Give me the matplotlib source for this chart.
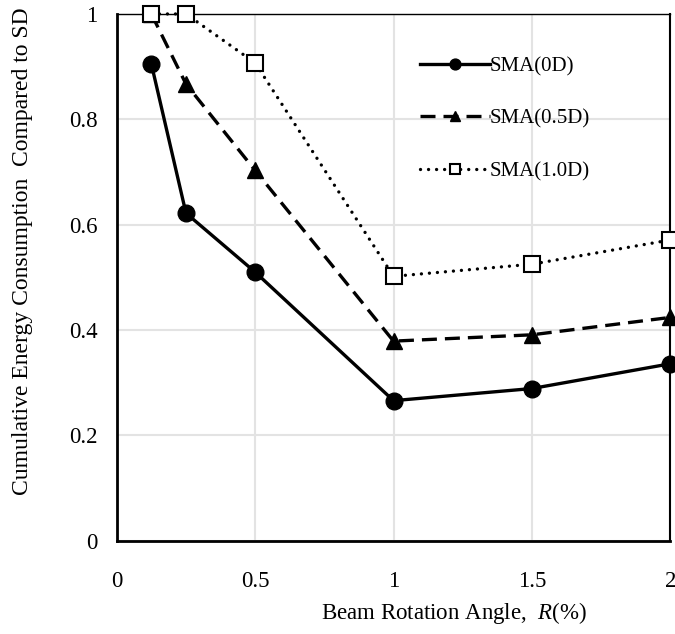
import numpy as np
import matplotlib
matplotlib.use('Agg')
import matplotlib.pyplot as plt

plt.rcParams['font.family'] = ['Liberation Serif', 'DejaVu Serif']
plt.rcParams['mathtext.fontset'] = 'custom'
plt.rcParams['mathtext.it'] = 'Liberation Serif:italic'
plt.rcParams['mathtext.rm'] = 'Liberation Serif'

# Beam rotation angle R (%)
rotation = [0.125, 0.25, 0.5, 1.0, 1.5, 2.0]

# Cumulative energy consumption ratio to SD
sma_0d = [0.905, 0.622, 0.510, 0.266, 0.289, 0.336]
sma_05d = [1.000, 0.867, 0.703, 0.379, 0.391, 0.424]
sma_10d = [1.000, 1.000, 0.907, 0.502, 0.525, 0.571]

labels = ['SMA(0D)', 'SMA(0.5D)', 'SMA(1.0D)']

fig = plt.figure(figsize=(6.75, 6.34), dpi=100)
ax = fig.add_axes([0.173, 0.147, 0.820, 0.831])

ax.plot(rotation, sma_0d, '-', color='black', lw=2.4, marker='o', ms=12,
        label=labels[0], clip_on=False, zorder=5)
ax.plot(rotation, sma_05d, color='black', lw=2.4, ls=(0, (4.5, 2.4)), marker='^',
        ms=12, label=labels[1], clip_on=False, zorder=5)
ax.plot(rotation, sma_10d, color='black', lw=2.4, ls=(0, (0.01, 2.4)),
        dash_capstyle='round', marker='s', ms=12, mfc='white', mec='black',
        mew=1.5, label=labels[2], clip_on=False, zorder=6)

ax.set_xlim(0, 2)
ax.set_ylim(0, 1)
ax.set_xticks([0, 0.5, 1, 1.5, 2])
ax.set_xticklabels(['0', '0.5', '1', '1.5', '2'])
ax.set_yticks([0, 0.2, 0.4, 0.6, 0.8, 1])
ax.set_yticklabels(['0', '0.2', '0.4', '0.6', '0.8', '1'])
ax.tick_params(length=0, labelsize=16.5)
ax.tick_params(axis='x', pad=22)
ax.tick_params(axis='y', pad=14)

ax.grid(True, color='#e3e3e3', lw=1.5)
ax.set_axisbelow(True)
ax.spines['left'].set_linewidth(2)
ax.spines['bottom'].set_linewidth(2)
ax.spines['top'].set_linewidth(1)
ax.spines['right'].set_linewidth(1.5)

ax.set_xlabel(r'Beam Rotation Angle,  $R$(%)', fontsize=16.5)
ax.xaxis.set_label_coords(0.61, -0.112)
ax.set_ylabel('Cumulative Energy Consumption  Compared to SD', fontsize=17)
ax.yaxis.set_label_coords(-0.152, 0.55)

ax.legend(loc='upper left', bbox_to_anchor=(0.532, 0.935), frameon=False,
          fontsize=15, handlelength=3.36, handletextpad=0.0, labelspacing=1.58,
          borderaxespad=0, markerscale=0.65)

fig.savefig('out.png', dpi=100)
